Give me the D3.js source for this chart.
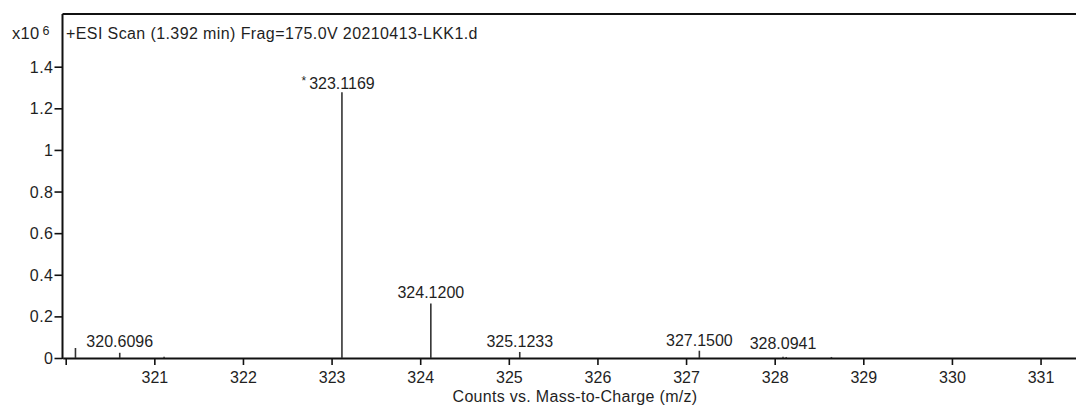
<!DOCTYPE html>
<html><head><meta charset="utf-8">
<script src="https://cdn.jsdelivr.net/npm/d3@7"></script>
<style>
body{margin:0;background:#fff;}
svg text{font-family:"Liberation Sans",Arial,sans-serif;fill:#1f1f1f;}
</style></head>
<body><svg id="c" width="1076" height="406"></svg>
<script>
// data (intensity in x10^6 counts)
const peakMz = [320.11, 320.6096, 321.11, 323.1169, 324.1200, 325.1233, 327.1500, 328.0941, 328.13, 328.64];
const peakInt = [0.048, 0.025, 0.006, 1.277, 0.262, 0.029, 0.035, 0.006, 0.005, 0.005];
const labelMz = [320.6096, 323.1169, 324.1200, 325.1233, 327.1500, 328.0941];
const labelText = ["320.6096", "323.1169", "324.1200", "325.1233", "327.1500", "328.0941"];
const labelY = [0.055, 1.295, 0.29, 0.053, 0.059, 0.043];
const xTicks = [320, 321, 322, 323, 324, 325, 326, 327, 328, 329, 330, 331];
const yTicks = [0, 0.2, 0.4, 0.6, 0.8, 1, 1.2, 1.4];
const titleText = "+ESI Scan (1.392 min) Frag=175.0V 20210413-LKK1.d";
const xTitle = "Counts vs. Mass-to-Charge (m/z)";

const svg = d3.select("#c");
const x = d3.scaleLinear().domain([319.966, 331.40]).range([62.7, 1076]);
const y = d3.scaleLinear().domain([0, 1.4]).range([358, 66.7]);
const frameTop = 14;

// frame
svg.append("line").attr("x1", 62.5).attr("x2", 1076).attr("y1", frameTop).attr("y2", frameTop)
  .attr("stroke", "#111").attr("stroke-width", 2);
svg.append("line").attr("x1", 62.5).attr("x2", 62.5).attr("y1", frameTop).attr("y2", 359)
  .attr("stroke", "#111").attr("stroke-width", 2);

// x axis
const xa = svg.append("g").attr("transform", "translate(0,358)")
  .call(d3.axisBottom(x).tickValues(xTicks).tickSize(7).tickSizeOuter(0)
    .tickFormat(d => d === 320 ? "" : d3.format("d")(d)));
xa.select(".domain").attr("stroke", "#111").attr("stroke-width", 2.2);
xa.selectAll(".tick line").attr("stroke", "#111").attr("stroke-width", 1.6);
xa.selectAll(".tick text").attr("font-size", 16).attr("dy", 0).attr("y", 24.5);

// y axis
const ya = svg.append("g").attr("transform", "translate(62.5,0)")
  .call(d3.axisLeft(y).tickValues(yTicks).tickSize(8).tickSizeOuter(0)
    .tickFormat(d => d3.format("")(+d.toFixed(1))));
ya.select(".domain").remove();
ya.selectAll(".tick line").attr("stroke", "#111").attr("stroke-width", 1.6);
ya.selectAll(".tick text").attr("font-size", 16).attr("x", -9).attr("dy", "0.35em")
  .attr("letter-spacing", 0.5);

// peaks
svg.append("g").selectAll("line").data(peakMz).join("line")
  .attr("x1", d => x(d)).attr("x2", d => x(d))
  .attr("y1", y(0)).attr("y2", (d, i) => y(peakInt[i]))
  .attr("stroke", "#333").attr("stroke-width", 1.6);

// peak labels
svg.append("g").selectAll("text").data(labelMz).join("text")
  .attr("x", d => x(d)).attr("y", (d, i) => y(labelY[i]))
  .attr("text-anchor", "middle").attr("font-size", 16)
  .text((d, i) => labelText[i]);
svg.append("text").attr("x", x(323.1169) - 38).attr("y", y(1.295) - 4)
  .attr("font-size", 12).attr("text-anchor", "middle").text("*");

// title & exponent
svg.append("text").attr("x", 66).attr("y", 39).attr("font-size", 16)
  .attr("letter-spacing", 0.4).text(titleText);
const ex = svg.append("text").attr("x", 12).attr("y", 39).attr("font-size", 16.5)
  .attr("letter-spacing", 0.3);
ex.append("tspan").text("x10");
ex.append("tspan").attr("dx", 3).attr("dy", -4).attr("font-size", 12.5).text("6");

// x title
svg.append("text").attr("x", 575).attr("y", 402).attr("text-anchor", "middle")
  .attr("font-size", 16).attr("letter-spacing", 0.3).text(xTitle);
</script></body></html>
